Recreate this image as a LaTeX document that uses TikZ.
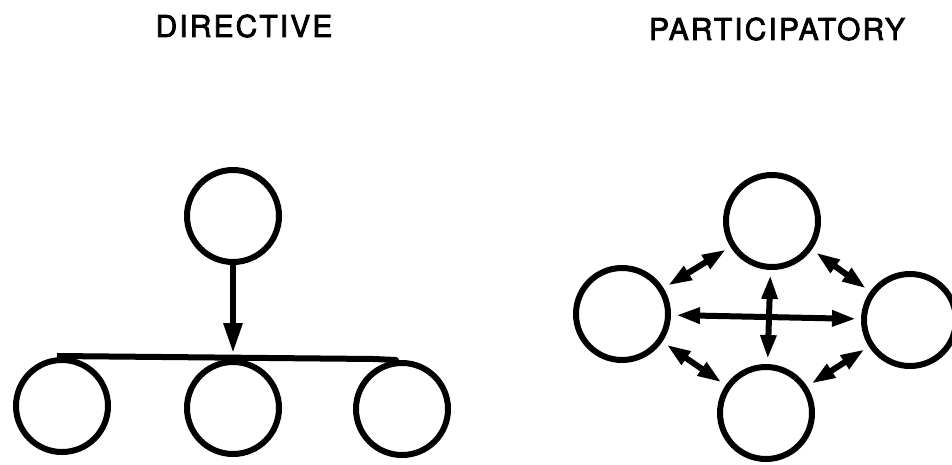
\documentclass[tikz,border=0pt]{standalone}
\usepackage{fontspec}
\setmainfont{TeX Gyre Heros}
\newfontfamily\titlefont[LetterSpace=7,FakeBold=2.5]{TeX Gyre Heros}
\usetikzlibrary{arrows.meta}
\begin{document}
\begin{tikzpicture}[x=1pt,y=-1pt,
  >={Triangle[length=24pt,width=15pt]},
  ring/.style={circle,draw,line width=6pt,minimum size=92pt,inner sep=0pt},
  link/.style={line width=6pt,-{Triangle[length=30pt,width=18pt]}},
  both/.style={line width=6pt,<->,shorten <=5pt,shorten >=5pt},
  title/.style={font=\titlefont\fontsize{30}{34}\selectfont,inner sep=0pt}]
\useasboundingbox (0,0) rectangle (952,464);
% titles
\node[title] (t1) at (244,26) {DIRECTIVE};
\node[title] (t2) at (777,29) {PARTICIPATORY};
% directive
\node[ring] (top) at (233,216) {};
\node[ring] (b1) at (62,406) {};
\node[ring] (b2) at (233,408) {};
\node[ring] (b3) at (402,409) {};
\coordinate (hl) at (57,356);
\coordinate (hr) at (374,359);
\coordinate (hm) at (233,353);
\draw[line width=6pt] (hl) -- (hr);
\draw[link] (top) -- (hm);
\draw[line width=6pt,line cap=round] (hr) -- ([xshift=-6pt]b3.north);
% participatory
\node[ring] (pt) at (772,221) {};
\node[ring] (pl) at (622,314) {};
\node[ring] (pr) at (910,320) {};
\node[ring] (pb) at (766,413) {};
\draw[both] (pl) -- (pr);
\draw[both] (pt) -- (pb);
\draw[both] (pl) -- (pt);
\draw[both] (pt) -- (pr);
\draw[both] (pl) -- (pb);
\draw[both] (pb) -- (pr);
\end{tikzpicture}
\end{document}
